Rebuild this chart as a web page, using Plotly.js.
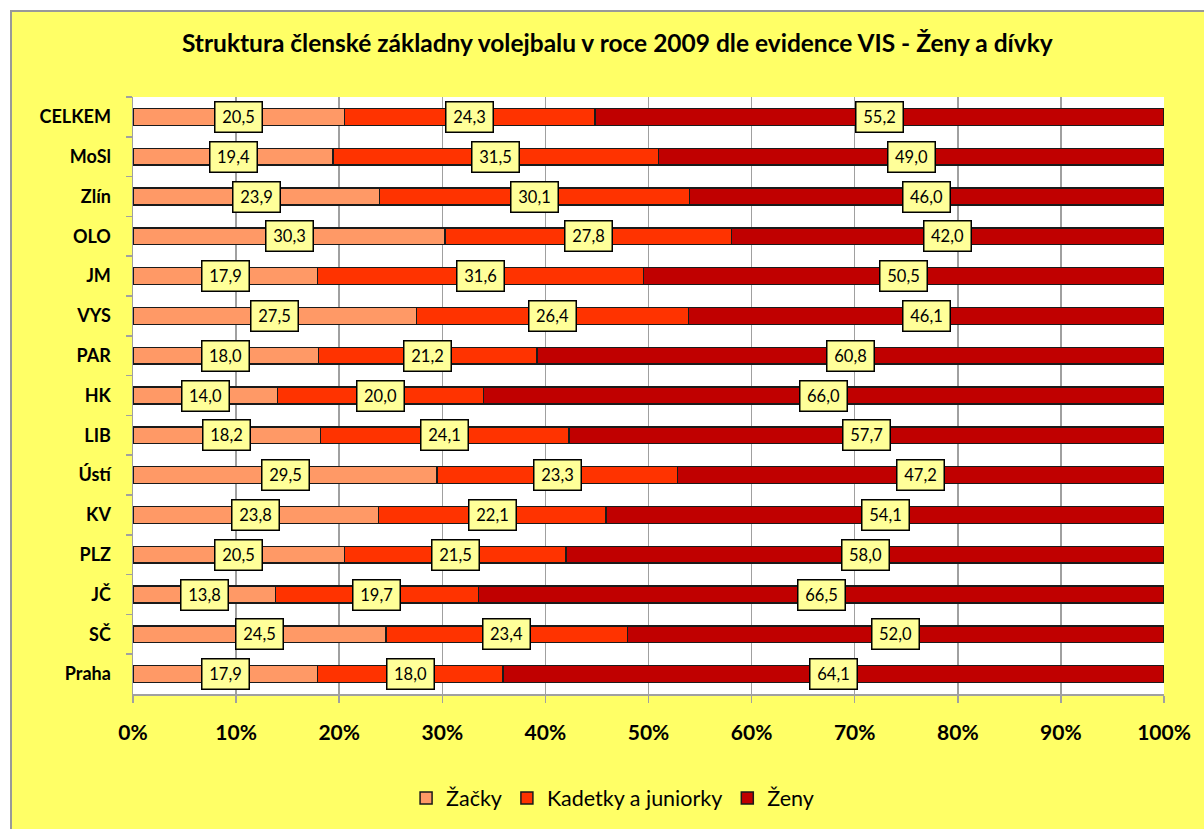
<!DOCTYPE html>
<html>
<head>
<meta charset="utf-8">
<script src="https://cdn.plot.ly/plotly-3.0.1.min.js"></script>
<style>
html,body{margin:0;padding:0;background:#fff;width:1204px;height:829px;overflow:hidden;}
#frame{position:absolute;left:10px;top:10px;width:1194px;height:819px;border-left:2px solid #999;border-top:2px solid #999;background:#FFFF66;}
#chart{position:absolute;left:0;top:0;width:1194px;height:819px;}
</style>
</head>
<body>
<div id="frame"><div id="chart"></div></div>
<script>
const categories = ["CELKEM","MoSl","Zlín","OLO","JM","VYS","PAR","HK","LIB","Ústí","KV","PLZ","JČ","SČ","Praha"];
const zacky     = [20.5,19.4,23.9,30.3,17.9,27.5,18.0,14.0,18.2,29.5,23.8,20.5,13.8,24.5,17.9];
const kadetky   = [24.3,31.5,30.1,27.8,31.6,26.4,21.2,20.0,24.1,23.3,22.1,21.5,19.7,23.4,18.0];
const zeny      = [55.2,49.0,46.0,42.0,50.5,46.1,60.8,66.0,57.7,47.2,54.1,58.0,66.5,52.0,64.1];
const seriesNames = ["Žačky","Kadetky a juniorky","Ženy"];
const seriesColors = ["#FF9966","#FF3300","#C00000"];
const xTickVals = [0,10,20,30,40,50,60,70,80,90,100];
const xTickText = ["0%","10%","20%","30%","40%","50%","60%","70%","80%","90%","100%"];

const series = [zacky, kadetky, zeny];
const fmt = v => v.toFixed(1).replace('.', ',');
const FONT = 'Lato, "Open Sans", sans-serif';

const traces = series.map((vals, i) => ({
  type: 'bar',
  orientation: 'h',
  name: seriesNames[i],
  y: categories,
  x: vals,
  marker: {color: seriesColors[i], line: {color: '#1a1a1a', width: 1.5}},
  width: 0.42,
  hoverinfo: 'skip'
}));

// label annotations at segment centres (normalized to 100%)
const annotations = [];
categories.forEach((c, k) => {
  const total = zacky[k] + kadetky[k] + zeny[k];
  let cum = 0;
  series.forEach((vals, i) => {
    const p = vals[k] / total * 100;
    annotations.push({
      x: cum + p / 2, y: c, xref: 'x', yref: 'y',
      text: fmt(vals[k]), showarrow: false,
      font: {family: FONT, size: 16.5, color: '#000'},
      width: 38, height: 21, align: 'center', valign: 'middle',
      bgcolor: '#FFFF99', bordercolor: '#000', borderwidth: 1.5, borderpad: 4
    });
    cum += p;
  });
});

const layout = {
  width: 1194, height: 819,
  paper_bgcolor: '#FFFF66',
  plot_bgcolor: '#FFFFFF',
  barmode: 'stack',
  barnorm: 'percent',
  margin: {l: 121, r: 42, t: 85, b: 137},
  title: {
    text: '<b>Struktura členské základny volejbalu v roce 2009 dle evidence VIS - Ženy a dívky</b>',
    font: {family: FONT, size: 24.5, color: '#000'},
    x: 0.507, xref: 'container', xanchor: 'center',
    y: 1 - 31/819, yref: 'container', yanchor: 'middle'
  },
  xaxis: {
    range: [0, 100], tickvals: xTickVals, ticktext: xTickText,
    showgrid: true, gridcolor: '#A0A0A0', gridwidth: 1.5,
    zeroline: false, showline: true, linecolor: '#A0A0A0', linewidth: 1.5,
    ticks: 'outside', ticklen: 7, tickcolor: '#A0A0A0', tickwidth: 1.5,
    tickfont: {family: FONT, size: 21, color: '#000', weight: 'bold'},
    ticklabelstandoff: 12, fixedrange: true
  },
  yaxis: {
    type: 'category', autorange: 'reversed',
    categoryorder: 'array', categoryarray: categories,
    showgrid: false, zeroline: false,
    showline: true, linecolor: '#A0A0A0', linewidth: 1.5,
    ticks: 'outside', ticklen: 6, tickcolor: '#A0A0A0', tickwidth: 1.5,
    tickson: 'boundaries',
    tickfont: {family: FONT, size: 18, color: '#000', weight: 'bold'},
    ticklabelstandoff: 17, fixedrange: true
  },
  showlegend: true,
  legend: {
    orientation: 'h', xref: 'container', yref: 'container',
    x: 0.503, xanchor: 'center', y: 1 - 786/819, yanchor: 'middle',
    font: {family: FONT, size: 21.5, color: '#000'},
    bgcolor: 'rgba(0,0,0,0)', itemwidth: 30, traceorder: 'normal'
  },
  annotations: annotations
};

Plotly.newPlot('chart', traces, layout, {displayModeBar: false, staticPlot: true});
</script>
</body>
</html>
